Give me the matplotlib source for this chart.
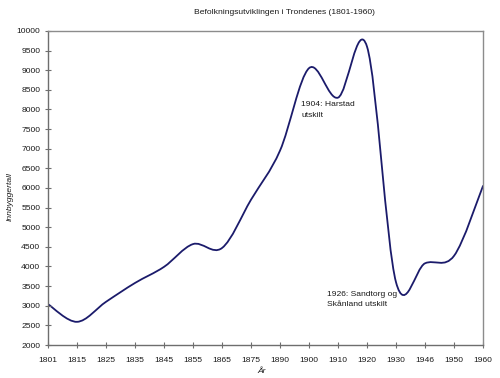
import matplotlib
matplotlib.use("Agg")
import matplotlib.pyplot as plt
from matplotlib.path import Path
from matplotlib.patches import PathPatch

years = ["1801", "1815", "1825", "1835", "1845", "1855", "1865", "1875",
         "1890", "1900", "1910", "1920", "1930", "1946", "1950", "1960"]
population = [3040, 2590, 3100, 3580, 3990, 4570, 4470, 5700,
              6950, 9050, 8300, 9600, 3600, 4080, 4270, 6050]

title = "Befolkningsutviklingen i Trondenes (1801-1960)"
ylabel = "Innbyggertall"
xlabel = "År"
note1 = "1904: Harstad\nutskilt"
note2 = "1926: Sandtorg og\nSkånland utskilt"

plt.rcParams['font.family'] = ['Liberation Sans', 'DejaVu Sans']
fs = 6.1

fig = plt.figure(figsize=(5.0, 3.78), dpi=100)
ax = fig.add_axes([0.096, 0.0873, 0.87, 0.831])

# Smoothed line (Excel-like Catmull-Rom bezier)
xs = list(range(len(population)))
ys = population
verts = [(xs[0], ys[0])]
codes = [Path.MOVETO]
n = len(xs)
for i in range(n - 1):
    p0 = (xs[max(i - 1, 0)], ys[max(i - 1, 0)])
    p1 = (xs[i], ys[i])
    p2 = (xs[i + 1], ys[i + 1])
    p3 = (xs[min(i + 2, n - 1)], ys[min(i + 2, n - 1)])
    c1 = (p1[0] + (p2[0] - p0[0]) / 6.0, p1[1] + (p2[1] - p0[1]) / 6.0)
    c2 = (p2[0] - (p3[0] - p1[0]) / 6.0, p2[1] - (p3[1] - p1[1]) / 6.0)
    verts += [c1, c2, p2]
    codes += [Path.CURVE4] * 3
ax.add_patch(PathPatch(Path(verts, codes), facecolor='none',
                       edgecolor='#1b1b6b', lw=1.3, capstyle='round'))

ax.set_xlim(0, n - 1)
ax.set_ylim(2000, 10000)
ax.set_xticks(xs)
ax.set_xticklabels(years)
ax.set_yticks(range(2000, 10001, 500))

for s in ax.spines.values():
    s.set_color('#8c8c8c')
    s.set_linewidth(1.0)
ax.spines['left'].set_color('#6e6e6e')
ax.spines['bottom'].set_color('#6e6e6e')
ax.tick_params(axis='both', direction='inout', length=5, width=0.8,
               color='#6e6e6e', labelsize=fs, labelcolor='#1a1a1a', pad=3)
ax.tick_params(axis='x', pad=6)

fig.text(0.57, 0.968, title, ha='center', va='center', fontsize=fs, color='#1a1a1a')
fig.text(0.02, 0.479, ylabel, rotation=90, ha='center', va='center',
         fontsize=fs, style='italic', color='#1a1a1a')
fig.text(0.524, 0.016, xlabel, ha='center', va='center', fontsize=fs,
         style='italic', color='#1a1a1a')

ax.annotate(note1, xy=(301 / 500, 1 - 101 / 378), xycoords='figure fraction',
            ha='left', va='top', fontsize=fs, color='#1a1a1a', linespacing=1.75)
ax.annotate(note2, xy=(327 / 500, 1 - 291 / 378), xycoords='figure fraction',
            ha='left', va='top', fontsize=fs, color='#1a1a1a', linespacing=1.65)

fig.savefig("out.png", dpi=100, facecolor='white')
